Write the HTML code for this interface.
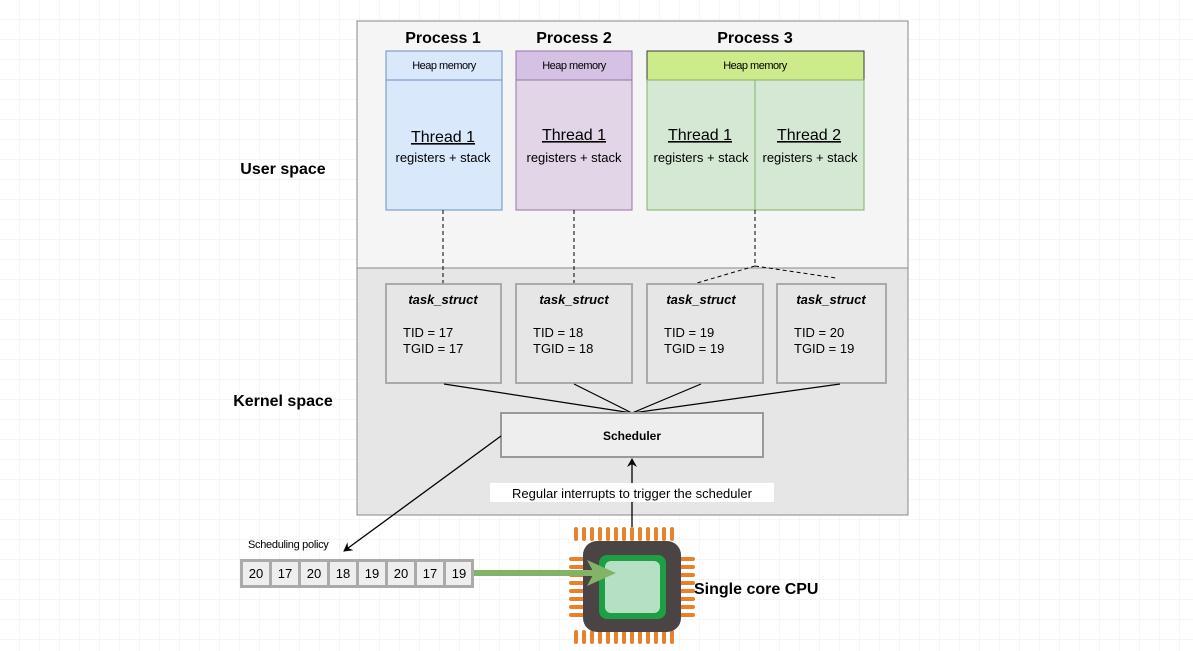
<!DOCTYPE html>
<html><head><meta charset="utf-8"><style>
body{margin:0;background:#fff}
svg{display:block}
text{font-family:"Liberation Sans",sans-serif}
</style></head><body>
<svg width="1193" height="651" xmlns="http://www.w3.org/2000/svg">
<defs>
<pattern id="g" width="20" height="20" patternUnits="userSpaceOnUse"><path d="M20 0V20H0" fill="none" stroke="#ececec" stroke-width="1"/></pattern>
<marker id="a" markerWidth="10" markerHeight="10" refX="8" refY="5" orient="auto" markerUnits="userSpaceOnUse"><path d="M0,0 L9,5 L0,10 L3,5z" fill="#000"/></marker>
</defs>
<rect width="1193" height="651" fill="url(#g)"/>
<rect x="357" y="21" width="551" height="247" fill="#f5f5f5" stroke="#888"/>
<rect x="357" y="268" width="551" height="247" fill="#e6e6e6" stroke="#888"/>
<text x="283" y="174" font-size="16" font-weight="bold" text-anchor="middle">User space</text>
<text x="283" y="406" font-size="16" font-weight="bold" text-anchor="middle">Kernel space</text>
<g font-size="16" font-weight="bold" text-anchor="middle">
<text x="443" y="43">Process 1</text><text x="574" y="43">Process 2</text><text x="755" y="43">Process 3</text></g>
<!-- P1 -->
<rect x="386" y="51" width="116" height="29" fill="#dae8fc" stroke="#6c8ebf"/>
<rect x="386" y="80" width="116" height="130" fill="#dae8fc" stroke="#6c8ebf"/>
<rect x="516" y="51" width="116" height="29" fill="#d5c1e3" stroke="#9673a6"/>
<rect x="516" y="80" width="116" height="130" fill="#e1d5e7" stroke="#9673a6"/>
<rect x="647" y="51" width="217" height="29" fill="#cdeb8b" stroke="#36393d"/>
<rect x="647" y="80" width="108" height="130" fill="#d5e8d4" stroke="#82b366"/>
<rect x="755" y="80" width="109" height="130" fill="#d5e8d4" stroke="#82b366"/>
<g font-size="11" text-anchor="middle" letter-spacing="-0.5">
<text x="444" y="69">Heap memory</text><text x="574" y="69">Heap memory</text><text x="755" y="69">Heap memory</text></g>
<g font-size="16" text-anchor="middle" text-decoration="underline">
<text x="443" y="142">Thread 1</text><text x="574" y="140">Thread 1</text><text x="700" y="140">Thread 1</text><text x="809" y="140">Thread 2</text></g>
<g font-size="13" text-anchor="middle">
<text x="443" y="162">registers + stack</text><text x="574" y="162">registers + stack</text><text x="701" y="162">registers + stack</text><text x="810" y="162">registers + stack</text></g>
<!-- dashed -->
<g stroke="#000" stroke-dasharray="4,3" fill="none">
<path d="M443 210V283M574 210V283M755 210V266L697 283M755 266L836 278"/></g>
<!-- task structs -->
<g fill="#e6e6e6" stroke="#aaa" stroke-width="2">
<rect x="386" y="284" width="115" height="99"/><rect x="516" y="284" width="116" height="99"/>
<rect x="647" y="284" width="116" height="99"/><rect x="777" y="284" width="109" height="99"/></g>
<g font-size="13" font-weight="bold" font-style="italic" text-anchor="middle">
<text x="443" y="304">task_struct</text><text x="574" y="304">task_struct</text><text x="701" y="304">task_struct</text><text x="831" y="304">task_struct</text></g>
<g font-size="13">
<text x="403" y="337">TID = 17</text><text x="403" y="353">TGID = 17</text>
<text x="533" y="337">TID = 18</text><text x="533" y="353">TGID = 18</text>
<text x="664" y="337">TID = 19</text><text x="664" y="353">TGID = 19</text>
<text x="794" y="337">TID = 20</text><text x="794" y="353">TGID = 19</text></g>
<g stroke="#000" stroke-width="1.2"><path d="M444 384L632 413M574 384L632 413M701 384L632 413M840 384L632 413"/></g>
<rect x="501" y="413" width="262" height="44" fill="#eeeeee" stroke="#999" stroke-width="2"/>
<text x="632" y="440" font-size="12" font-weight="bold" text-anchor="middle">Scheduler</text>
<line x1="501" y1="436" x2="344" y2="551" stroke="#000" stroke-width="1.3" marker-end="url(#a)"/>
<line x1="632" y1="527" x2="632" y2="459" stroke="#000" stroke-width="1.3" marker-end="url(#a)"/>
<rect x="490" y="483" width="284" height="19" fill="#fff"/>
<text x="632" y="498" font-size="13" text-anchor="middle">Regular interrupts to trigger the scheduler</text>
<!-- queue -->
<text x="248" y="548" font-size="11" letter-spacing="-0.3">Scheduling policy</text>
<rect x="240" y="559" width="234" height="29" fill="#aaa"/>
<g fill="#eee">
<rect x="243" y="562" width="26" height="23"/><rect x="272" y="562" width="26" height="23"/><rect x="301" y="562" width="26" height="23"/><rect x="330" y="562" width="26" height="23"/><rect x="359" y="562" width="26" height="23"/><rect x="388" y="562" width="26" height="23"/><rect x="417" y="562" width="26" height="23"/><rect x="446" y="562" width="25" height="23"/></g>
<g font-size="13" text-anchor="middle">
<text x="256" y="578">20</text><text x="285" y="578">17</text><text x="314" y="578">20</text><text x="343" y="578">18</text><text x="372" y="578">19</text><text x="401" y="578">20</text><text x="430" y="578">17</text><text x="459" y="578">19</text></g>
<!-- CPU -->
<g fill="#e8822a">
<rect x="574" y="527" width="4" height="14" rx="2"/><rect x="582" y="527" width="4" height="14" rx="2"/><rect x="590" y="527" width="4" height="14" rx="2"/><rect x="598" y="527" width="4" height="14" rx="2"/><rect x="606" y="527" width="4" height="14" rx="2"/><rect x="614" y="527" width="4" height="14" rx="2"/><rect x="622" y="527" width="4" height="14" rx="2"/><rect x="630" y="527" width="4" height="14" rx="2"/><rect x="638" y="527" width="4" height="14" rx="2"/><rect x="646" y="527" width="4" height="14" rx="2"/><rect x="654" y="527" width="4" height="14" rx="2"/><rect x="662" y="527" width="4" height="14" rx="2"/><rect x="670" y="527" width="4" height="14" rx="2"/>
<rect x="574" y="630" width="4" height="14" rx="2"/><rect x="582" y="630" width="4" height="14" rx="2"/><rect x="590" y="630" width="4" height="14" rx="2"/><rect x="598" y="630" width="4" height="14" rx="2"/><rect x="606" y="630" width="4" height="14" rx="2"/><rect x="614" y="630" width="4" height="14" rx="2"/><rect x="622" y="630" width="4" height="14" rx="2"/><rect x="630" y="630" width="4" height="14" rx="2"/><rect x="638" y="630" width="4" height="14" rx="2"/><rect x="646" y="630" width="4" height="14" rx="2"/><rect x="654" y="630" width="4" height="14" rx="2"/><rect x="662" y="630" width="4" height="14" rx="2"/><rect x="670" y="630" width="4" height="14" rx="2"/>
<rect x="569" y="557" width="16" height="4" rx="2"/><rect x="569" y="565" width="16" height="4" rx="2"/><rect x="569" y="573" width="16" height="4" rx="2"/><rect x="569" y="581" width="16" height="4" rx="2"/><rect x="569" y="589" width="16" height="4" rx="2"/><rect x="569" y="597" width="16" height="4" rx="2"/><rect x="569" y="605" width="16" height="4" rx="2"/><rect x="569" y="613" width="16" height="4" rx="2"/>
<rect x="679" y="557" width="16" height="4" rx="2"/><rect x="679" y="565" width="16" height="4" rx="2"/><rect x="679" y="573" width="16" height="4" rx="2"/><rect x="679" y="581" width="16" height="4" rx="2"/><rect x="679" y="589" width="16" height="4" rx="2"/><rect x="679" y="597" width="16" height="4" rx="2"/><rect x="679" y="605" width="16" height="4" rx="2"/><rect x="679" y="613" width="16" height="4" rx="2"/></g>
<rect x="583" y="541" width="98" height="91" rx="14" fill="#4a4444"/>
<rect x="599" y="555" width="67" height="64" rx="8" fill="#1e9e45"/>
<rect x="605" y="561" width="55" height="52" rx="6" fill="#b6e0c3"/>
<line x1="474" y1="573" x2="594" y2="573" stroke="#82b366" stroke-width="6"/>
<path d="M587 560 L616 573 L587 586 L594 573z" fill="#82b366"/>
<text x="694" y="594" font-size="16" font-weight="bold">Single core CPU</text>
</svg>
</body></html>
